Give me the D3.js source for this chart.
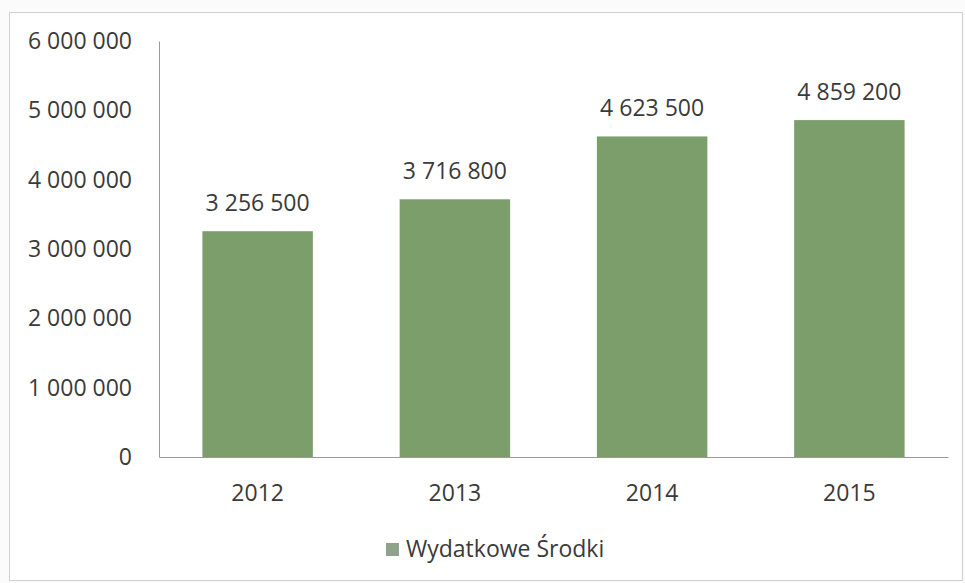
<!DOCTYPE html>
<html><head><meta charset="utf-8">
<script src="https://cdn.jsdelivr.net/npm/d3@7"></script>
<style>body{margin:0;background:#fff}svg{display:block}</style>
</head><body>
<script>
const categories = ["2012","2013","2014","2015"];
const values = [3256500, 3716800, 4623500, 4859200];
const yTicks = [0,1000000,2000000,3000000,4000000,5000000,6000000];
const seriesName = "Wydatkowe Środki";

(function(){
const W=965,H=583;
const svg=d3.select("body").append("svg").attr("width",W).attr("height",H);
svg.append("rect").attr("width",W).attr("height",H).attr("fill","#fbfbfb");
svg.append("rect").attr("x",9.5).attr("y",12.5).attr("width",953).attr("height",568)
  .attr("fill","#fff").attr("stroke","#d0d0d0");

const fmt = v => d3.format(",")(v).replace(/,/g," ");
const pL=159, pR=948, pT=41, pB=457;
const x=d3.scaleBand().domain(categories).range([pL,pR]).paddingInner(0.44).paddingOuter(0.22);
const y=d3.scaleLinear().domain([0,6000000]).range([pB,pT]);
const font="'Open Sans', Lato, sans-serif";
const fs=23;
const tc="#3a3a3a";

svg.selectAll(".bar").data(values).enter().append("rect")
  .attr("x",(d,i)=>x(categories[i])).attr("width",x.bandwidth())
  .attr("y",d=>y(d)).attr("height",d=>pB-y(d)).attr("fill","#7b9e6b");

const ya=svg.append("g").attr("transform",`translate(${pL},0)`)
  .call(d3.axisLeft(y).tickValues(yTicks).tickFormat(fmt).tickSize(0).tickPadding(27));
ya.select(".domain").attr("stroke","#9a9a9a");
ya.selectAll("text").attr("font-family",font).attr("font-size",fs).attr("fill",tc);

const xa=svg.append("g").attr("transform",`translate(0,${pB})`)
  .call(d3.axisBottom(x).tickSize(0).tickPadding(28));
xa.select(".domain").attr("stroke","#9a9a9a");
xa.selectAll("text").attr("font-family",font).attr("font-size",fs).attr("fill",tc);

svg.selectAll(".lbl").data(values).enter().append("text")
  .attr("x",(d,i)=>x(categories[i])+x.bandwidth()/2).attr("y",d=>y(d)-20)
  .attr("text-anchor","middle").attr("font-family",font).attr("font-size",fs).attr("fill",tc)
  .text(fmt);

const lg=svg.append("g");
lg.append("rect").attr("x",386).attr("y",543).attr("width",13).attr("height",13).attr("fill","#8fa38a");
lg.append("text").attr("x",406).attr("y",557).attr("font-family",font).attr("font-size",fs).attr("fill",tc).text(seriesName);
})();
</script>
</body></html>
